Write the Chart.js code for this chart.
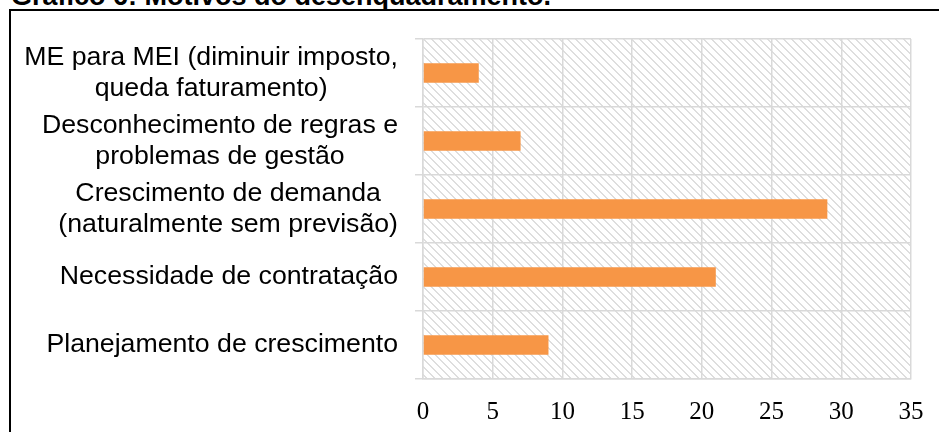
<!DOCTYPE html>
<html><head><meta charset="utf-8">
<script src="https://cdn.jsdelivr.net/npm/chart.js@4.4.1/dist/chart.umd.min.js"></script>
<style>
html,body{margin:0;padding:0;background:#fff;overflow:hidden}
#wrap{position:relative;width:939px;height:432px;overflow:hidden}
#frame{position:absolute;left:9px;top:9px;width:2000px;height:2000px;border:2.5px solid #000;box-sizing:border-box}
#title{position:absolute;left:11px;top:-17px;font:bold 27px "Liberation Sans",Arial,sans-serif;line-height:27px;white-space:nowrap;color:#000}
#c{position:absolute;left:0;top:0}
</style></head><body>
<div id="wrap">
<div id="title">Gráfico 6: Motivos do desenquadramento.</div>
<div id="frame"></div>
<canvas id="c" width="939" height="432"></canvas>
</div>
<script>
const categories = [
  ["ME para MEI (diminuir imposto,", "queda faturamento)"],
  ["Desconhecimento de regras e", "problemas de gestão"],
  ["Crescimento de demanda", "(naturalmente sem previsão)"],
  "Necessidade de contratação",
  "Planejamento de crescimento"
];
const values = [4, 7, 29, 21, 9];
const xTickValues = [0, 5, 10, 15, 20, 25, 30, 35];

const canvas = document.getElementById('c');
const ctx0 = canvas.getContext('2d');

// hatch pattern (wide downward diagonal)
const pc = document.createElement('canvas');
pc.width = 8; pc.height = 8;
const p = pc.getContext('2d');
p.fillStyle = '#dedede';
for (let r = 0; r < 8; r++) {
  p.fillRect(r, r, 1, 1);
  p.fillRect((r + 1) % 8, r, 1, 1);
}
const pattern = ctx0.createPattern(pc, 'repeat');

const TICK_LEN = 8, TICK_PAD = 17;

const customPlugin = {
  id: 'custom',
  beforeDraw(chart) {
    const { ctx, chartArea: a } = chart;
    ctx.save();
    ctx.fillStyle = '#fff';
    ctx.fillRect(a.left, a.top, a.right - a.left, a.bottom - a.top);
    ctx.translate(a.left, a.top);
    ctx.fillStyle = pattern;
    ctx.fillRect(0, 0, a.right - a.left, a.bottom - a.top);
    ctx.restore();

    // right-align each label block, centre lines within block
    const y = chart.scales.y;
    const items = y.getLabelItems();
    ctx.save();
    items.forEach(it => {
      ctx.font = it.font.string;
      const lines = Array.isArray(it.label) ? it.label : [it.label];
      const w = Math.max(...lines.map(l => ctx.measureText(l).width));
      const right = y.right - TICK_LEN - TICK_PAD;
      it.options.textAlign = 'center';
      it.options.translation[0] = right - w / 2;
    });
    ctx.restore();
  }
};

new Chart(canvas, {
  type: 'bar',
  data: {
    labels: categories,
    datasets: [{
      data: values,
      backgroundColor: '#F79646',
      borderWidth: 0,
      barPercentage: 0.285,
      categoryPercentage: 1
    }]
  },
  options: {
    indexAxis: 'y',
    responsive: false,
    animation: false,
    devicePixelRatio: 1,
    layout: { padding: { left: 0, right: 28, top: 39, bottom: 0 } },
    plugins: { legend: { display: false }, tooltip: { enabled: false }, title: { display: false } },
    scales: {
      x: {
        min: 0, max: 35,
        afterBuildTicks(scale) { scale.ticks = xTickValues.map(v => ({ value: v })); },
        afterFit(scale) { scale.height = 53; scale.paddingLeft = 0; scale.paddingRight = 0; },
        grid: { color: '#d9d9d9', lineWidth: 1.5, drawTicks: false },
        border: { color: '#d9d9d9', width: 1.5 },
        ticks: {
          padding: 18,
          color: '#000',
          font: { family: '"Liberation Serif", "DejaVu Serif", serif', size: 25 }
        }
      },
      y: {
        afterFit(scale) { scale.width = 423; },
        grid: { color: '#d9d9d9', lineWidth: 1.5, tickLength: TICK_LEN, offset: true },
        border: { color: '#d9d9d9', width: 1.5 },
        ticks: {
          padding: TICK_PAD,
          color: '#000',
          autoSkip: false,
          font: { family: '"Liberation Sans", Arial, sans-serif', size: 26.7, lineHeight: 1.17 }
        }
      }
    }
  },
  plugins: [customPlugin]
});
</script>
</body></html>
